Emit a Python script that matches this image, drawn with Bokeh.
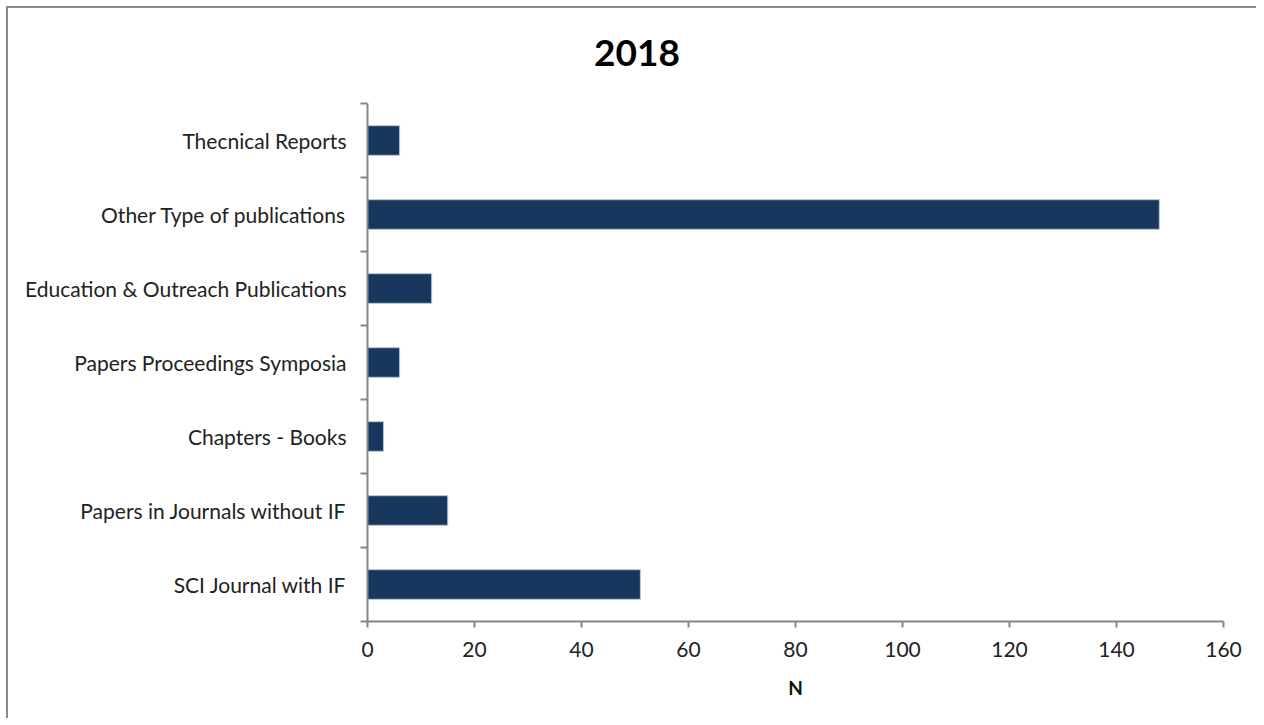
from bokeh.plotting import figure
from bokeh.models import FixedTicker, ColumnDataSource, Div
from bokeh.layouts import column
from bokeh.embed import file_html
from bokeh.resources import INLINE

categories = [
    "SCI Journal with IF",
    "Papers in Journals without IF",
    "Chapters - Books",
    "Papers Proceedings Symposia",
    "Education & Outreach Publications",
    "Other Type of publications",
    "Thecnical Reports",
]
values = [51, 15, 3, 6, 12, 148, 6]
x_ticks = [0, 20, 40, 60, 80, 100, 120, 140, 160]
title_text = "2018"
x_label = "N"

FONT = "Lato"
AXIS_COLOR = "#868686"
BAR_COLOR = "#17375E"

positions = [i + 0.5 for i in range(len(categories))]
source = ColumnDataSource(dict(y=positions, value=values, cat=categories))

W = 1248
TITLE_H = 90
FIG_H = 620
FRAME_H = 518
TOP = 5

title_div = Div(
    text=(f'<div style="position:relative; left:{629 - W // 2}px; width:{W}px; '
          f'margin-top:25px; text-align:center; font-family:{FONT}; font-weight:bold; '
          f'font-size:37px; line-height:1; color:black;">{title_text}</div>'),
    width=W, height=TITLE_H,
    styles={"background-color": "white", "margin": "0", "padding": "0"})

p = figure(width=W, height=FIG_H, output_backend="svg", toolbar_location=None,
           x_range=(0, 160), y_range=(0, len(categories)),
           min_border_left=359, min_border_right=W - 359 - 856, min_border_top=TOP,
           min_border_bottom=FIG_H - TOP - FRAME_H)
p.outline_line_color = None
p.grid.visible = False
p.background_fill_color = "white"
p.border_fill_color = "white"

p.hbar(y="y", right="value", left=0, height=0.4, source=source,
       fill_color=BAR_COLOR, line_color="#b8c6d6", line_width=1)

# x axis
xa = p.xaxis[0]
xa.ticker = FixedTicker(ticks=x_ticks, minor_ticks=[])
xa.axis_line_color = AXIS_COLOR
xa.axis_line_width = 2
xa.major_tick_line_color = AXIS_COLOR
xa.major_tick_line_width = 2
xa.major_tick_out = 6
xa.major_tick_in = 0
xa.major_label_standoff = 14
xa.major_label_text_font = FONT
xa.major_label_text_font_size = "21px"
xa.major_label_text_color = "#222222"
xa.axis_label = x_label
xa.axis_label_text_font = FONT
xa.axis_label_text_font_style = "bold"
xa.axis_label_text_font_size = "19px"
xa.axis_label_text_color = "#111111"
xa.axis_label_standoff = 16

# y axis: labels at category centres, tick marks at boundaries
ya = p.yaxis[0]
ya.ticker = FixedTicker(ticks=positions, minor_ticks=list(range(len(categories) + 1)))
ya.major_label_overrides = {pos: c for pos, c in zip(positions, categories)}
ya.axis_line_color = AXIS_COLOR
ya.axis_line_width = 2
ya.major_tick_out = 0
ya.major_tick_in = 0
ya.minor_tick_line_color = AXIS_COLOR
ya.minor_tick_line_width = 2
ya.minor_tick_out = 7
ya.minor_tick_in = 0
ya.major_label_standoff = 14
ya.major_label_text_font = FONT
ya.major_label_text_font_size = "21px"
ya.major_label_text_color = "#222222"

layout = column(title_div, p, spacing=0,
                styles={"border-top": "2px solid #8a8a8a", "border-left": "2px solid #8a8a8a",
                        "margin-left": "6px", "margin-top": "6px",
                        "background-color": "white"})

open("out.html", "w").write(file_html(layout, INLINE))
